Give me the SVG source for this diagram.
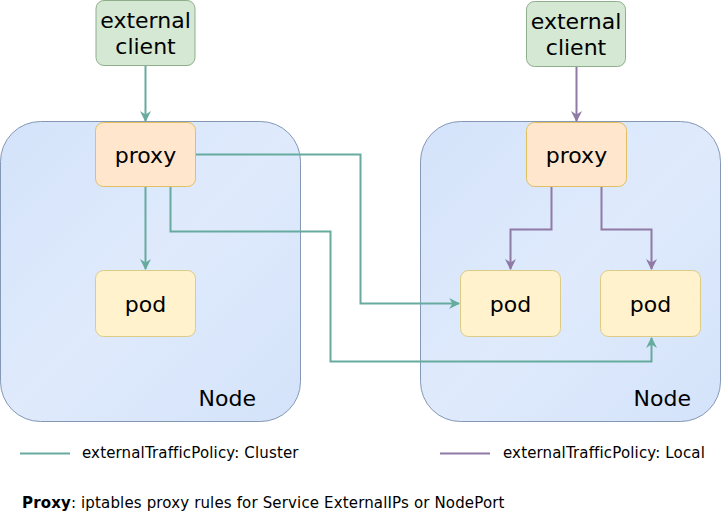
<svg xmlns="http://www.w3.org/2000/svg" width="721" height="512" viewBox="0 0 721 512">
<style>
text{font-family:"DejaVu Sans","Liberation Sans",sans-serif;fill:#000}
.big{font-size:22px;text-anchor:middle}
.small{font-size:15px;letter-spacing:0.15px}
.node rect{fill:url(#ng);stroke:#8497b5;stroke-width:1}
.client{fill:#d5e8d4;stroke:#8fae8c;stroke-width:1}
.proxy{fill:#ffe6cc;stroke:#e0c060;stroke-width:1}
.pod{fill:#fff2cc;stroke:#dccb84;stroke-width:1}
.c{fill:none;stroke:#67ab9f;stroke-width:2}
.l{fill:none;stroke:#8f7aa6;stroke-width:2}
</style>
<defs>
<linearGradient id="ng" x1="0" y1="0" x2="1" y2="1">
<stop offset="0" stop-color="#d4e3fa"/>
<stop offset="0.5" stop-color="#dfeafc"/>
<stop offset="1" stop-color="#d4e3fa"/>
</linearGradient>
<marker id="ac2" viewBox="0 0 10 10" refX="9" refY="5" markerWidth="11" markerHeight="11" orient="auto" markerUnits="userSpaceOnUse">
<path d="M0,0 L10,5 L0,10 L3,5 z" fill="#67ab9f"/>
</marker>
<marker id="al" viewBox="0 0 10 10" refX="9" refY="5" markerWidth="11" markerHeight="11" orient="auto" markerUnits="userSpaceOnUse">
<path d="M0,0 L10,5 L0,10 L3,5 z" fill="#8f7aa6"/>
</marker>
</defs>

<g id="node-left" class="node">
<rect x="0.5" y="121.5" width="300" height="300" rx="40" ry="40"/>
<text class="big" x="256" y="406" style="text-anchor:end">Node</text>
</g>
<g id="node-right" class="node">
<rect x="420.5" y="121.5" width="300" height="300" rx="40" ry="40"/>
<text class="big" x="691" y="406" style="text-anchor:end">Node</text>
</g>

<g id="client-left">
<rect class="client" x="96" y="0.5" width="99" height="65" rx="8"/>
<text class="big" x="145.5" y="28">external</text>
<text class="big" x="145.5" y="54">client</text>
</g>
<g id="client-right">
<rect class="client" x="526.5" y="1.5" width="99" height="65" rx="8"/>
<text class="big" x="576" y="29">external</text>
<text class="big" x="576" y="55">client</text>
</g>

<g id="proxy-left">
<rect class="proxy" x="95.5" y="122.5" width="100" height="64" rx="8"/>
<text class="big" x="145.5" y="163">proxy</text>
</g>
<g id="proxy-right">
<rect class="proxy" x="526.5" y="122.5" width="100" height="64" rx="8"/>
<text class="big" x="576.5" y="163">proxy</text>
</g>

<g id="pod-left">
<rect class="pod" x="95.5" y="270.5" width="100" height="66" rx="8"/>
<text class="big" x="145.5" y="312">pod</text>
</g>
<g id="pod-right-1">
<rect class="pod" x="460.5" y="270.5" width="100" height="66" rx="8"/>
<text class="big" x="510.5" y="312">pod</text>
</g>
<g id="pod-right-2">
<rect class="pod" x="600.5" y="270.5" width="100" height="66" rx="8"/>
<text class="big" x="650.5" y="312">pod</text>
</g>

<g id="connectors">
<path class="c" d="M145.5,66 V121" marker-end="url(#ac2)"/>
<path class="c" d="M145.5,187 V269" marker-end="url(#ac2)"/>
<path class="c" d="M196,154.5 H360.5 V303.5 H459" marker-end="url(#ac2)"/>
<path class="c" d="M170.5,187 V231.5 H330.5 V361.5 H651.5 V338" marker-end="url(#ac2)"/>
<path class="l" d="M576.5,67 V121" marker-end="url(#al)"/>
<path class="l" d="M551.5,187 V229.5 H510.5 V269" marker-end="url(#al)"/>
<path class="l" d="M601.5,187 V229.5 H651.5 V269" marker-end="url(#al)"/>
</g>

<g id="legend">
<line class="c" x1="20" y1="453.5" x2="70" y2="453.5"/>
<text class="small" x="82" y="458">externalTrafficPolicy: Cluster</text>
<line class="l" x1="440" y1="453.5" x2="490" y2="453.5"/>
<text class="small" x="503" y="458">externalTrafficPolicy: Local</text>
<text class="small" x="22" y="508"><tspan font-weight="bold">Proxy</tspan>: iptables proxy rules for Service ExternalIPs or NodePort</text>
</g>
</svg>
